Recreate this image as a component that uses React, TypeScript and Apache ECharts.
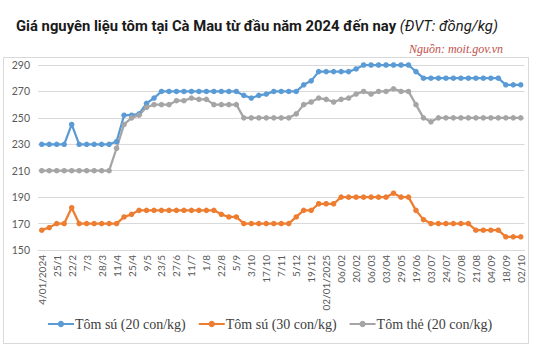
import React, { useEffect, useRef } from "react";
import * as echarts from "echarts";

// Tick labels shown on the x axis (every other observation)
const tickLabels = [
  "4/01/2024", "25/1", "22/2", "7/3", "28/3", "11/4", "25/4", "9/5", "23/5", "27/6",
  "11/7", "1/8", "22/8", "5/9", "3/10", "17/10", "7/11", "5/12", "19/12", "02/01/2025",
  "06/02", "20/02", "06/03", "03/04", "29/05", "19/06", "03/07", "24/07", "07/08", "21/08",
  "04/09", "18/09", "02/10",
];

// Tôm sú (20 con/kg)
const tomSu20 = [
  230, 230, 230, 230, 245, 230, 230, 230, 230, 230,
  232, 252, 252, 253, 261, 265, 270, 270, 270, 270,
  270, 270, 270, 270, 270, 270, 270, 267, 265, 267,
  268, 270, 270, 270, 270, 275, 278, 285, 285, 285,
  285, 285, 287, 290, 290, 290, 290, 290, 290, 290,
  285, 280, 280, 280, 280, 280, 280, 280, 280, 280,
  280, 280, 275, 275, 275,
];

// Tôm sú (30 con/kg)
const tomSu30 = [
  165, 167, 170, 170, 182, 170, 170, 170, 170, 170,
  170, 175, 177, 180, 180, 180, 180, 180, 180, 180,
  180, 180, 180, 180, 177, 175, 175, 170, 170, 170,
  170, 170, 170, 170, 175, 180, 180, 185, 185, 185,
  190, 190, 190, 190, 190, 190, 190, 193, 190, 190,
  180, 173, 170, 170, 170, 170, 170, 170, 165, 165,
  165, 165, 160, 160, 160,
];

// Tôm thẻ (20 con/kg)
const tomThe20 = [
  210, 210, 210, 210, 210, 210, 210, 210, 210, 210,
  227, 245, 250, 252, 258, 260, 260, 260, 263, 263,
  265, 264, 264, 260, 260, 260, 260, 250, 250, 250,
  250, 250, 250, 250, 253, 260, 262, 265, 264, 262,
  264, 265, 268, 270, 268, 270, 270, 272, 270, 270,
  260, 250, 247, 250, 250, 250, 250, 250, 250, 250,
  250, 250, 250, 250, 250,
];

const seriesNames = ["Tôm sú (20 con/kg)", "Tôm sú (30 con/kg)", "Tôm thẻ (20 con/kg)"];
const seriesColors = ["#5B9BD5", "#ED7D31", "#A5A5A5"];

const yMin = 150;
const yMax = 290;
const yStep = 20;

// 65 observations; labelled every other one
const categories: string[] = [];
for (let i = 0; i < tomSu20.length; i++) {
  categories.push(i % 2 === 0 ? tickLabels[i / 2] : "");
}

export default function App() {
  const ref = useRef<HTMLDivElement>(null);

  useEffect(() => {
    document.body.style.margin = "0";
    if (!ref.current) return;
    const chart = echarts.init(ref.current, null, { renderer: "svg" });
    const values = [tomSu20, tomSu30, tomThe20];
    chart.setOption({
      animation: false,
      backgroundColor: "#ffffff",
      title: {
        left: 11,
        top: 13,
        text:
          "{b|Giá nguyên liệu tôm tại Cà Mau từ đầu năm 2024 đến nay }{i|(ĐVT: đồng/kg)}",
        textStyle: {
          rich: {
            b: {
              fontFamily: "Roboto",
              fontWeight: "bold",
              fontSize: 14.8,
              color: "#1a1a1a",
            },
            i: {
              fontFamily: "Roboto",
              fontStyle: "italic",
              fontWeight: "normal",
              fontSize: 14.8,
              color: "#1a1a1a",
            },
          },
        },
      },
      graphic: [
        {
          type: "rect",
          shape: { x: 3.5, y: 57.5, width: 525, height: 286 },
          style: { fill: "none", stroke: "#d9d9d9", lineWidth: 1 },
          silent: true,
        },
        {
          type: "text",
          right: 36,
          top: 43,
          style: {
            text: "Nguồn: moit.gov.vn",
            font: "italic 12px 'Liberation Serif'",
            fill: "#c0504d",
          },
        },
      ],
      legend: {
        bottom: 10,
        left: "center",
        itemWidth: 26,
        itemHeight: 8,
        itemGap: 12,
        textStyle: {
          fontFamily: "Liberation Serif",
          fontSize: 14,
          color: "#404040",
          padding: [0, 0, 0, -4],
        },
        data: seriesNames,
      },
      grid: {
        left: 38,
        right: 14.5,
        top: 65,
        bottom: 96,
        containLabel: false,
      },
      xAxis: {
        type: "category",
        boundaryGap: true,
        data: categories,
        axisLine: { show: true, lineStyle: { color: "#d9d9d9", width: 1 } },
        axisTick: { show: false },
        axisLabel: {
          interval: 0,
          rotate: 90,
          margin: 5,
          fontFamily: "Lato",
          fontSize: 10,
          color: "#595959",
        },
      },
      yAxis: {
        type: "value",
        min: yMin,
        max: yMax,
        interval: yStep,
        axisLine: { show: false },
        axisTick: { show: false },
        splitLine: { lineStyle: { color: "#d9d9d9", width: 1 } },
        axisLabel: {
          margin: 8,
          fontFamily: "Lato",
          fontSize: 10.5,
          color: "#595959",
        },
      },
      series: seriesNames.map((name, k) => ({
        name,
        type: "line",
        data: values[k],
        symbol: "circle",
        symbolSize: 5.5,
        showAllSymbol: true,
        lineStyle: { color: seriesColors[k], width: 2.25 },
        itemStyle: { color: seriesColors[k] },
      })),
    });
    return () => chart.dispose();
  }, []);

  return <div ref={ref} style={{ width: 539, height: 346 }} />;
}
